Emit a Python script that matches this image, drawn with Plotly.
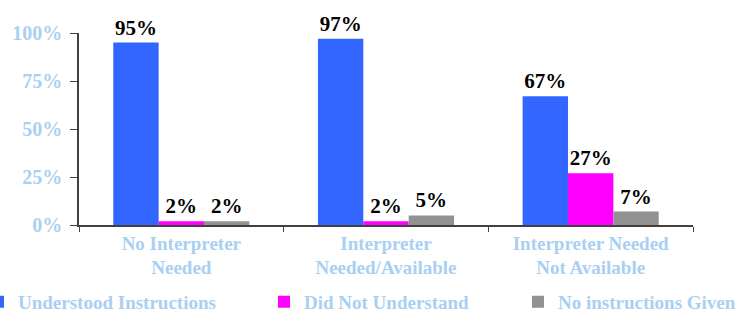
import plotly.graph_objects as go

categories = ["No Interpreter<br>Needed", "Interpreter<br>Needed/Available", "Interpreter Needed<br>Not Available"]
series_names = ["Understood Instructions", "Did Not Understand", "No instructions Given"]
understood = [95, 97, 67]
not_understand = [2, 2, 27]
no_instructions = [2, 5, 7]
colors = ["#3366ff", "#ff00ff", "#929292"]
legend_ids = ["legend", "legend2", "legend3"]

PLOT_L, PLOT_R = 79, 693
PW = PLOT_R - PLOT_L
def px2paper(px):
    return (px - PLOT_L) / PW

fig = go.Figure()
for name, vals, col, lg in zip(series_names, [understood, not_understand, no_instructions], colors, legend_ids):
    fig.add_trace(go.Bar(
        x=categories, y=vals, name=name, legend=lg,
        marker=dict(color=col, line=dict(width=0)),
        text=[f"{v}%" for v in vals], textposition="outside", cliponaxis=False,
        textfont=dict(family="Liberation Serif", size=21, color="black", weight="bold"),
    ))

lfont = dict(family="Liberation Serif", size=19, color="#a9d0f2", weight="bold")
common_leg = dict(orientation="h", xanchor="left", yref="container", y=0.045, yanchor="middle",
                  font=lfont, bgcolor="rgba(0,0,0,0)", borderwidth=0)
fig.update_layout(
    width=750, height=316,
    margin=dict(l=PLOT_L, r=750 - PLOT_R, t=33, b=91, autoexpand=False),
    paper_bgcolor="white", plot_bgcolor="white",
    barmode="group", bargap=0.335, bargroupgap=0.0,
    font=dict(family="Liberation Serif", color="#a9d0f2", size=19),
    showlegend=True,
    legend=dict(x=px2paper(-22), **common_leg),
    legend2=dict(x=px2paper(264), **common_leg),
    legend3=dict(x=px2paper(518), **common_leg),
)
fig.update_yaxes(range=[0, 100], tickvals=[0, 25, 50, 75, 100], ticktext=["0%", "25%", "50%", "75%", "100%"],
                 showline=True, linecolor="#404040", linewidth=1.5, ticks="outside", ticklen=7, tickcolor="#404040",
                 showgrid=False, zeroline=False, ticklabelstandoff=4,
                 tickfont=dict(family="Liberation Serif", size=20, color="#a9d0f2", weight="bold"))
fig.update_xaxes(showline=True, linecolor="#404040", linewidth=1.5, ticks="outside", ticklen=5, tickcolor="#404040",
                 tickson="boundaries", showgrid=False,
                 tickfont=dict(family="Liberation Serif", size=19, color="#a9d0f2", weight="bold"))

fig.write_html("out.html", config={"displayModeBar": False},
               post_script="document.body.style.margin='0';")
